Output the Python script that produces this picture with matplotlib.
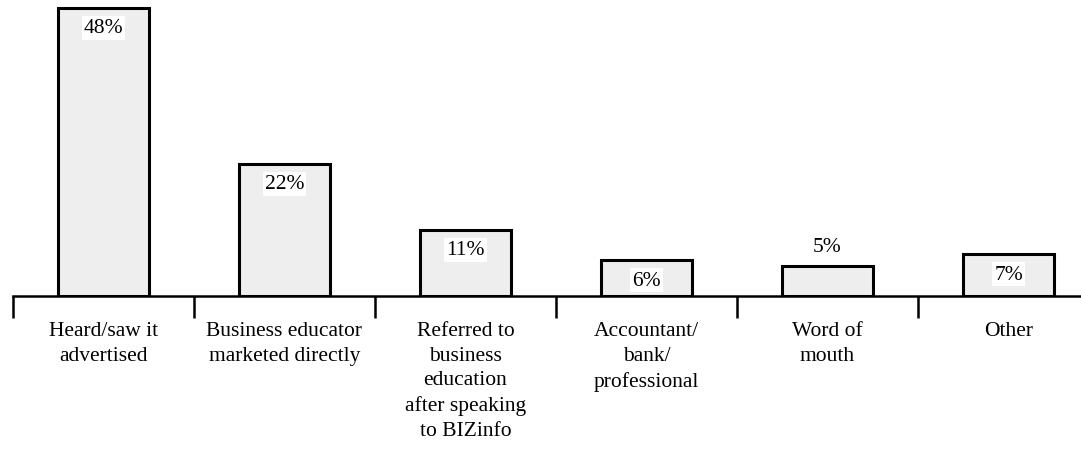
import matplotlib
matplotlib.use('Agg')
import matplotlib.pyplot as plt
import numpy as np

categories = [
    'Heard/saw it\nadvertised',
    'Business educator\nmarketed directly',
    'Referred to\nbusiness\neducation\nafter speaking\nto BIZinfo',
    'Accountant/\nbank/\nprofessional',
    'Word of\nmouth',
    'Other',
]
values = [48, 22, 11, 6, 5, 7]
labels = ['48%', '22%', '11%', '6%', '5%', '7%']
label_above = [False, False, False, False, True, False]

plt.rcParams['font.family'] = ['Liberation Serif', 'DejaVu Serif']
FS = 15.5

fig = plt.figure(figsize=(10.81, 4.60), dpi=100)
# axis runs a little past the right edge of the figure, as in the source
ax = fig.add_axes([13 / 1081, 163 / 460, 1086 / 1081, 297 / 460])

x = np.arange(len(values))
ax.bar(x, values, width=0.5, color='#eeeeee', edgecolor='black', linewidth=2.2, zorder=3)

for xi, v, lab, above in zip(x, values, labels, label_above):
    if above:
        ax.annotate(lab, (xi, v), xytext=(0, 19), textcoords='offset pixels',
                    ha='center', va='center', fontsize=FS)
    else:
        ax.annotate(lab, (xi, v), xytext=(0, -20), textcoords='offset pixels',
                    ha='center', va='center', fontsize=FS,
                    bbox=dict(facecolor='white', edgecolor='none', pad=1.5), zorder=4)

ax.set_xlim(-0.5, len(values) - 0.5)
ax.set_ylim(0, 49.5)

for s in ['top', 'right', 'left']:
    ax.spines[s].set_visible(False)
ax.spines['bottom'].set_linewidth(1.8)
ax.set_yticks([])

ax.set_xticks(np.arange(len(values) + 1) - 0.5, minor=False)
ax.set_xticklabels([])
ax.tick_params(axis='x', which='major', direction='out', length=16, width=1.8)
ax.set_xticks(x, minor=True)
ax.set_xticklabels(categories, minor=True, fontsize=FS, linespacing=1.41, va='top')
ax.tick_params(axis='x', which='minor', length=0, pad=18)

fig.savefig('out.png', dpi=100)
